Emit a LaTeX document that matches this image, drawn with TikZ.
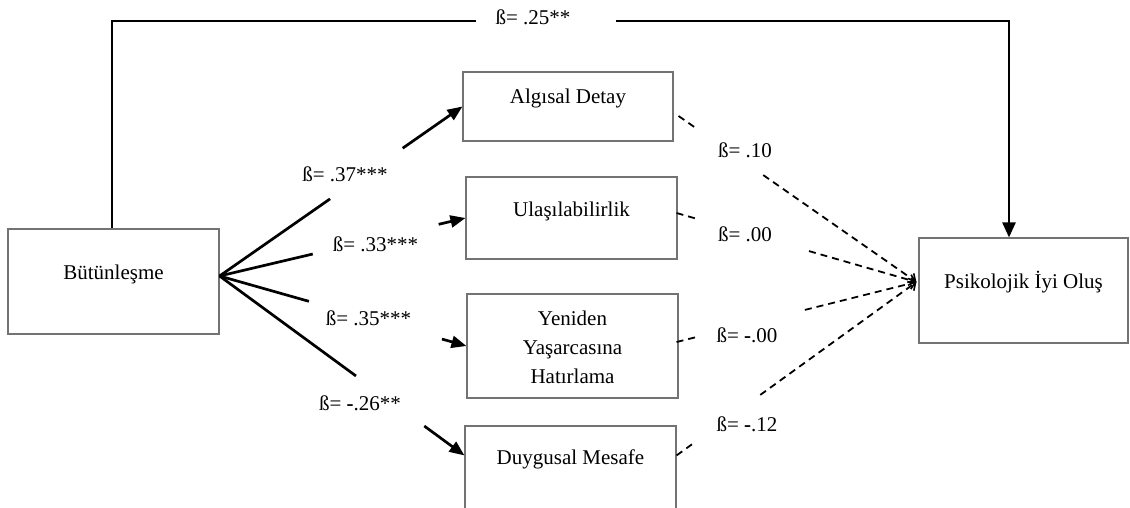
\documentclass[tikz,border=0pt]{standalone}
\usepackage{fontspec}
\setmainfont{Liberation Serif}
\usetikzlibrary{arrows.meta,calc}
\begin{document}
\begin{tikzpicture}[x=1pt,y=-1pt,
  box/.style={draw=black!55, line width=1.1pt, rectangle, inner sep=0pt},
  txt/.style={font=\fontsize{21}{29}\selectfont, inner sep=0pt, anchor=base},
  solidpath/.style={line width=2.7pt},
  ptip/.style={-{Triangle[length=15pt,width=12pt]}},
  dpath/.style={line width=1.8pt, dash pattern=on 7pt off 5pt},
  dtip/.style={-{Straight Barb[length=6pt,width=11pt,line width=1.6pt]}}
]
\useasboundingbox (0,0) rectangle (1130,508);

% boxes
\node[box, minimum width=211pt, minimum height=105pt] (B) at (113.5,281.5) {};
\node[box, minimum width=210pt, minimum height=69pt]  (A) at (568,106.5) {};
\node[box, minimum width=211pt, minimum height=82pt]  (U) at (571.5,218) {};
\node[box, minimum width=211pt, minimum height=104pt] (Y) at (572.5,346) {};
\node[box, minimum width=211pt, minimum height=105pt] (D) at (570.5,478.5) {};
\node[box, minimum width=209pt, minimum height=105pt] (P) at (1023.5,290.5) {};

% box texts
\node[txt] (tB) at (113.5,279) {Bütünleşme};
\node[txt] (tA) at (568,104) {Algısal Detay};
\node[txt] (tU) at (571.5,216) {Ulaşılabilirlik};
\node[txt, anchor=center, align=center] (tY) at (572.5,347.7) {Yeniden\\Yaşarcasına\\Hatırlama};
\node[txt] (tD) at (570.5,464.3) {Duygusal Mesafe};
\node[txt] (tP) at (1023.5,288) {Psikolojik İyi Oluş};

% labels
\node[txt] (l0) at (533,25) {ß= .25**};
\node[txt] (l1) at (345,181.7) {ß= .37***};
\node[txt] (l2) at (375.5,251) {ß= .33***};
\node[txt] (l3) at (368.5,325) {ß= .35***};
\node[txt] (l4) at (360,410) {ß= \textbf{-}.26**};
\node[txt] (l5) at (745,157.7) {ß= .10};
\node[txt] (l6) at (745,241.7) {ß= .00};
\node[txt] (l7) at (747,342.7) {ß= \textbf{-}.00};
\node[txt] (l8) at (747,431.7) {ß= \textbf{-}.12};

% coordinates
\coordinate (S) at ($(B.east)+(0,-5.5)$);
\coordinate (eD) at ($(D.north west)+(0,30)$);
\coordinate (pin) at ($(P.west)+(-2,-8.5)$);
\coordinate (sA) at ($(A.east)+(5,9.5)$);
\coordinate (sU) at ($(U.east)+(-1,-5)$);
\coordinate (sY) at ($(Y.east)+(-2,-4)$);
\coordinate (sD) at ($(D.north east)+(0,30)$);
\coordinate (c1) at (112,21);
\coordinate (c2) at (476,21);
\coordinate (c3) at (616,21);
\coordinate (c4) at (1009,21);
\coordinate (c5) at ($(P.north)+(-14.5,0)$);

% top path
\draw[line width=1.4pt] (B.north -| c1) -- ($(c1)+(0,1)$);
\draw[line width=2.4pt] ($(c1)+(-0.7,0)$) -- (c2);
\draw[line width=2.4pt, -{Triangle[length=15pt,width=13pt]}] (c3) -- (c4) -- (c5);

% solid arrows
\draw[solidpath] (S) -- ($(S)!0.455!(A.west)$);
\draw[solidpath,ptip] ($(S)!0.754!(A.west)$) -- (A.west);
\draw[solidpath] (S) -- ($(S)!0.379!(U.west)$);
\draw[solidpath,ptip] ($(S)!0.891!(U.west)$) -- (U.west);
\draw[solidpath] (S) -- ($(S)!0.362!(Y.west)$);
\draw[solidpath,ptip] ($(S)!0.901!(Y.west)$) -- (Y.west);
\draw[solidpath] (S) -- ($(S)!0.557!(eD)$);
\draw[solidpath,ptip] ($(S)!0.836!(eD)$) -- (eD);

% dashed arrows
\draw[dpath] (sA) -- ($(sA)!0.071!(pin)$);
\draw[dpath,dtip] ($(sA)!0.356!(pin)$) -- (pin);
\draw[dpath] (sU) -- ($(sU)!0.079!(pin)$);
\draw[dpath,dtip] ($(sU)!0.552!(pin)$) -- (pin);
\draw[dpath] (sY) -- ($(sY)!0.079!(pin)$);
\draw[dpath,dtip] ($(sY)!0.535!(pin)$) -- (pin);
\draw[dpath] (sD) -- ($(sD)!0.079!(pin)$);
\draw[dpath,dtip] ($(sD)!0.349!(pin)$) -- (pin);
\end{tikzpicture}
\end{document}
